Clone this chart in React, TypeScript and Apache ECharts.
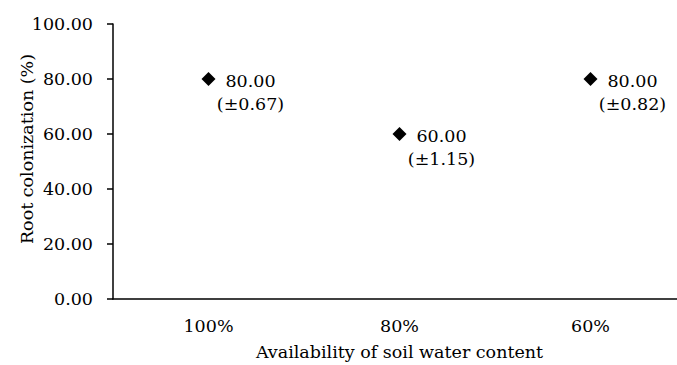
import React, { useEffect, useRef } from "react";
import * as echarts from "echarts";

const categories = ["100%", "80%", "60%"];
const values = [80, 60, 80];
const errors = [0.67, 1.15, 0.82];
const yTicks = { min: 0, max: 100, interval: 20 };
const xTitle = "Availability of soil water content";
const yTitle = "Root colonization (%)";

const FONT = "DejaVu Serif";
const FS = 17.5;

export default function App() {
  const ref = useRef<HTMLDivElement>(null);
  useEffect(() => {
    if (!ref.current) return;
    const chart = echarts.init(ref.current, undefined, { renderer: "svg" });
    chart.setOption({
      animation: false,
      backgroundColor: "#fff",
      textStyle: { fontFamily: FONT },
      grid: {
        left: 113,
        top: 24,
        bottom: 66,
        width: 573,
        containLabel: false,
        outerBoundsMode: "none",
      },
      graphic: [
        {
          type: "text",
          x: 27,
          y: 149,
          rotation: Math.PI / 2,
          style: {
            text: yTitle,
            fontFamily: FONT,
            fontSize: FS,
            fill: "#000",
            align: "center",
            verticalAlign: "middle",
          },
        },
      ],
      xAxis: {
        type: "category",
        data: categories,
        boundaryGap: true,
        name: xTitle,
        nameLocation: "middle",
        nameGap: 44,
        nameTextStyle: { fontFamily: FONT, fontSize: FS, color: "#000" },
        axisLine: { lineStyle: { color: "#000", width: 1.5 } },
        axisTick: { alignWithLabel: true, length: 5, lineStyle: { color: "#000", width: 1.5 } },
        axisLabel: { fontFamily: FONT, fontSize: FS, color: "#000", margin: 18 },
        splitLine: { show: false },
      },
      yAxis: {
        type: "value",
        min: yTicks.min,
        max: yTicks.max,
        interval: yTicks.interval,
        axisLine: { show: true, lineStyle: { color: "#000", width: 1.5 } },
        axisTick: { show: true, length: 6, lineStyle: { color: "#000", width: 1.5 } },
        axisLabel: {
          fontFamily: FONT,
          fontSize: FS,
          color: "#000",
          margin: 20,
          formatter: (v: number) => v.toFixed(2),
        },
        splitLine: { show: false },
      },
      series: [
        {
          type: "scatter",
          data: values,
          symbol: "diamond",
          symbolSize: 14,
          itemStyle: { color: "#000", opacity: 1 },
          label: {
            show: true,
            position: "inside",
            offset: [42, 13],
            align: "center",
            verticalAlign: "middle",
            lineHeight: 23,
            fontFamily: FONT,
            fontSize: FS,
            color: "#000",
            formatter: (p: any) =>
              `${values[p.dataIndex].toFixed(2)}\n(±${errors[p.dataIndex].toFixed(2)})`,
          },
        },
      ],
    });
    return () => chart.dispose();
  }, []);
  return (
    <div
      ref={ref}
      style={{ position: "fixed", left: 0, top: 0, width: 677, height: 365 }}
    />
  );
}
